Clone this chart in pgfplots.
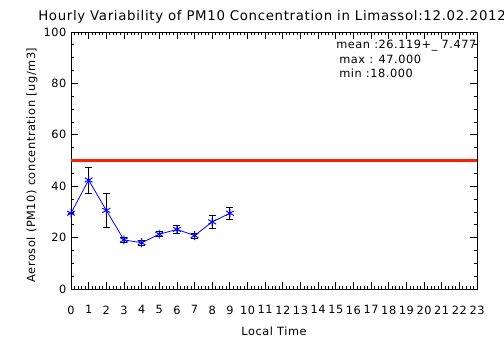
\documentclass[border=0pt]{standalone}
\usepackage{pgfplots}
\pgfplotsset{compat=1.18}
\usepackage{fontspec}
\setmainfont{DejaVu Sans}[LetterSpace=5]
\definecolor{pmred}{RGB}{255,30,0}
\begin{document}
\begin{tikzpicture}[x=1pt,y=1pt]
\useasboundingbox (-53.25,-54) rectangle (324.75,216.75);
\begin{axis}[
  at={(0,0)}, anchor=south west,
  scale only axis, width=304.5pt, height=192.75pt,
  xmin=0, xmax=23, ymin=0, ymax=100,
  xtick={0,1,...,23}, minor x tick num=4,
  ytick={0,20,...,100}, minor y tick num=3,
  tick align=inside,
  xtick pos=both, ytick pos=both,
  x tick label style={yshift=-9pt},
  major tick length=5pt, minor tick length=2.5pt,
  tick style={black, line width=0.6pt},
  axis line style={line width=0.6pt},
  ticklabel style={font=\fontsize{8.5}{10}\selectfont},
  /pgf/number format/assume math mode=true,
  clip=false,
]
\addplot[pmred, line width=2.4pt, forget plot] coordinates {(0,50) (23,50)};
\addplot[blue, line width=0.6pt, mark=asterisk, mark size=3.4pt,
  mark options={blue, line width=0.7pt},
  error bars/.cd, y dir=both, y explicit,
  error bar style={black, line width=0.6pt},
  error mark options={black, rotate=90, mark size=2.6pt, line width=0.6pt}]
  coordinates {
  (0,29.5) +- (0,0)
  (1,42.4) +- (0,5.1)
  (2,30.6) +- (0,6.6)
  (3,19.1) +- (0,1.0)
  (4,18.0) +- (0,1.0)
  (5,21.3) +- (0,1.0)
  (6,23.2) +- (0,1.4)
  (7,20.8) +- (0,1.0)
  (8,26.1) +- (0,2.5)
  (9,29.5) +- (0,2.3)
  };
\end{axis}
\node[anchor=west, inner sep=0pt, font=\fontsize{10}{12}\selectfont] at (-24.75,204) {Hourly Variability of PM10 Concentration in Limassol:12.02.2012};
\node[rotate=90, font=\fontsize{8.5}{10}\selectfont] at (-29.25,93) {Aerosol (PM10) concentration [ug/m3]};
\node[font=\fontsize{8.5}{10}\selectfont] at (152.25,-31.5) {Local Time};
\node[anchor=west, inner sep=0pt, font=\fontsize{8.5}{10}\selectfont] at (198.75,182.25) {mean :26.119+\_ 7.477};
\node[anchor=west, inner sep=0pt, font=\fontsize{8.5}{10}\selectfont] at (201,172.5) {max : 47.000};
\node[anchor=west, inner sep=0pt, font=\fontsize{8.5}{10}\selectfont] at (201,162) {min :18.000};
\end{tikzpicture}
\end{document}
